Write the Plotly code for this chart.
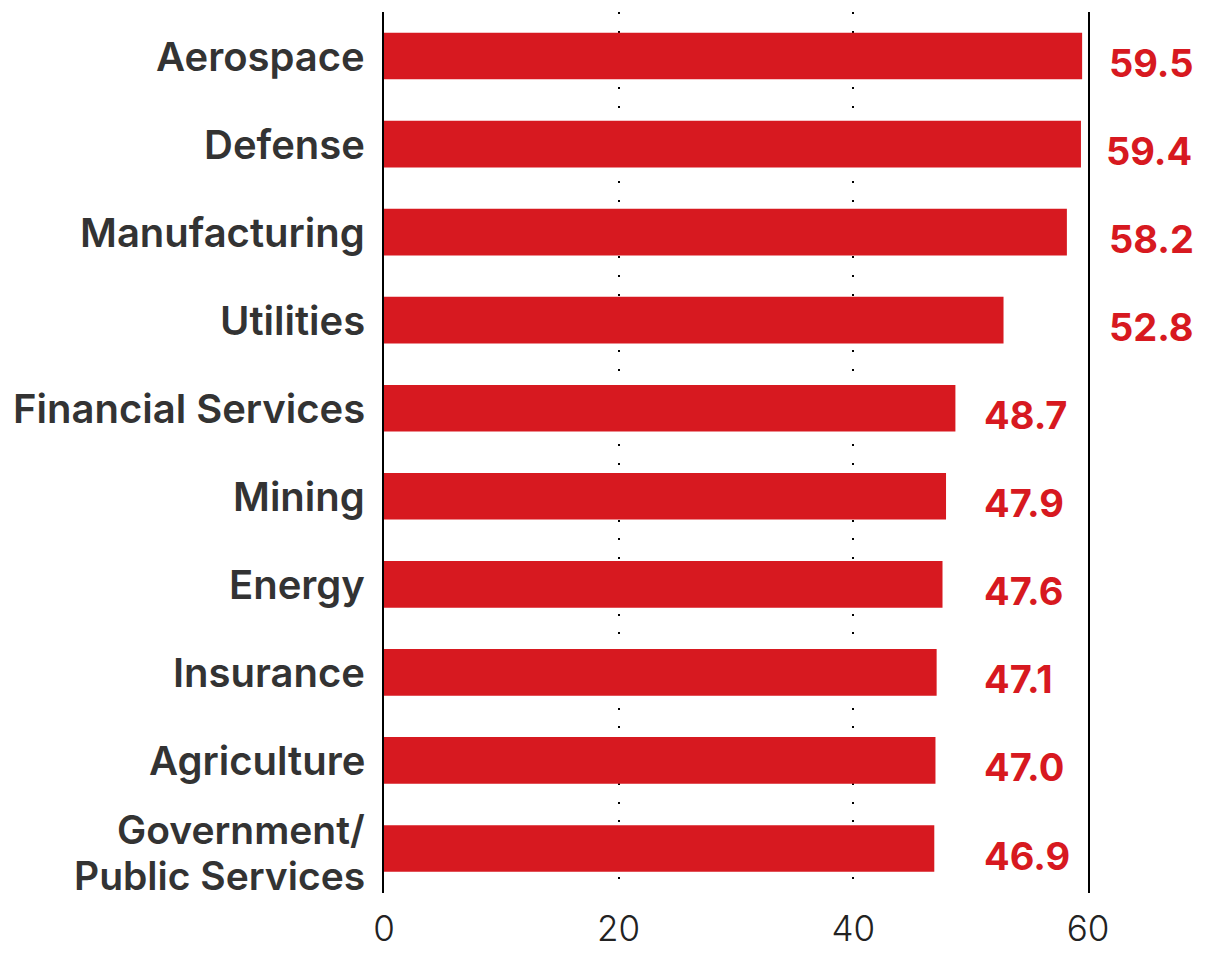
import plotly.graph_objects as go

categories = ["Aerospace", "Defense", "Manufacturing", "Utilities", "Financial Services",
              "Mining", "Energy", "Insurance", "Agriculture", "Government/<br>Public Services"]
values = [59.5, 59.4, 58.2, 52.8, 48.7, 47.9, 47.6, 47.1, 47.0, 46.9]
value_labels = ["59.5", "59.4", "58.2", "52.8", "48.7", "47.9", "47.6", "47.1", "47.0", "46.9"]
label_x = [61.6, 61.4, 61.6, 61.6, 51.0, 51.0, 51.0, 51.0, 51.0, 51.0]
x_ticks = [0, 20, 40, 60]
x_max = 60

RED = "#D71920"
DARK = "#333333"

fig = go.Figure()
fig.add_trace(go.Bar(
    x=values, y=categories, orientation="h",
    marker=dict(color=RED, line=dict(width=0)),
    hoverinfo="skip",
))

# value labels
for cat, lx, lab in zip(categories, label_x, value_labels):
    fig.add_annotation(
        x=lx / x_max, y=cat, xref="paper", yref="y", text=lab, showarrow=False,
        xanchor="left", yanchor="middle", yshift=-7,
        font=dict(family="Inter", size=38, color=RED, weight=700),
    )

# category labels (tight line spacing for multi-line)
for cat in categories:
    lines = cat.split("<br>")
    n = len(lines)
    for i, ln in enumerate(lines):
        fig.add_annotation(
            x=0, y=cat, xref="paper", yref="y", text=ln, showarrow=False,
            xanchor="right", yanchor="middle", xshift=-17,
            yshift=(-(i - (n - 1) / 2) * 46) - (4 if n > 1 else 0),
            font=dict(family="Inter", size=40 if n == 1 else 39, color=DARK, weight=600),
        )

fig.update_layout(
    width=1199, height=952,
    margin=dict(l=376, r=119, t=4, b=67),
    paper_bgcolor="white", plot_bgcolor="white",
    showlegend=False, bargap=0.47,
    xaxis=dict(
        range=[0, x_max], tickvals=x_ticks, ticktext=[str(t) for t in x_ticks],
        showgrid=True, gridcolor="black", gridwidth=2, griddash="2px,16.8px",
        zeroline=False, showline=False, ticks="", ticklabelstandoff=12,
        tickfont=dict(family="Inter", size=35, color="#222222", weight=300),
        fixedrange=True,
    ),
    yaxis=dict(
        autorange="reversed", showgrid=False, zeroline=False,
        showline=True, mirror=True, linecolor="black", linewidth=2,
        ticks="", showticklabels=False,
        fixedrange=True,
    ),
)

fig.write_html("out.html")
